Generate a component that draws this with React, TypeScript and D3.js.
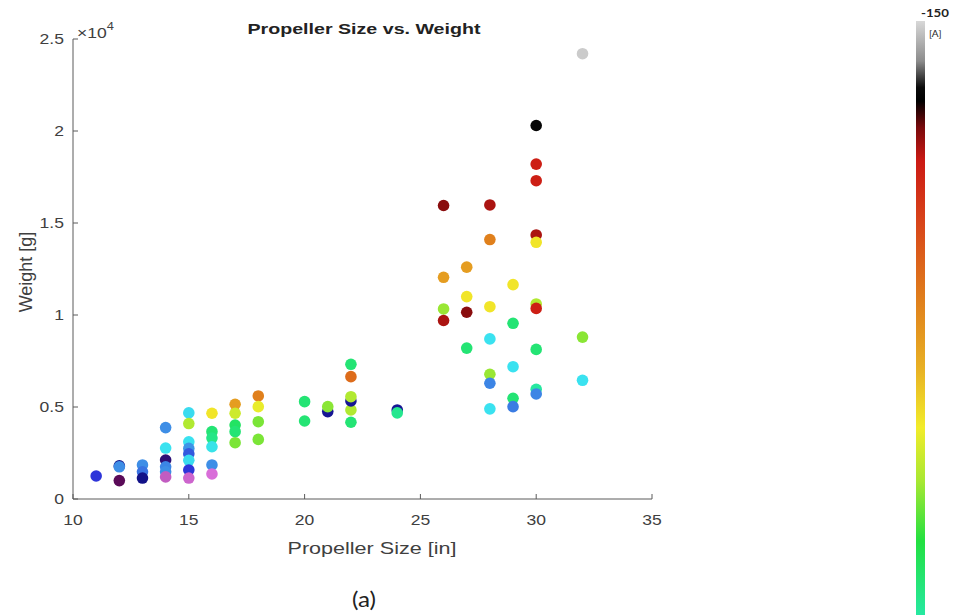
import React from "react";
import { scaleLinear, interpolateRgb } from "d3";

// propeller data: size [in], weight [g], current [A]
const sizes = [
  11,
  12, 12, 12,
  13, 13, 13,
  14, 14, 14, 14, 14, 14,
  15, 15, 15, 15, 15, 15, 15, 15,
  16, 16, 16, 16, 16, 16,
  17, 17, 17, 17, 17,
  18, 18, 18, 18,
  20, 20,
  21, 21,
  22, 22, 22, 22, 22, 22,
  24, 24,
  26, 26, 26, 26,
  27, 27, 27, 27,
  28, 28, 28, 28, 28, 28, 28,
  29, 29, 29, 29, 29,
  30, 30, 30, 30, 30, 30, 30, 30, 30, 30,
  32, 32, 32,
];
const weights = [
  1250,
  1800, 1750, 1000,
  1850, 1480, 1140,
  3880, 2770, 2120, 1750, 1480, 1200,
  4680, 4100, 3110, 2750, 2450, 2100, 1580, 1140,
  4660, 3660, 3310, 2840, 1850, 1360,
  5150, 4660, 4020, 3660, 3060,
  5600, 5020, 4200, 3240,
  5290, 4240,
  4750, 5020,
  7320, 6650, 4840, 5330, 5560, 4170,
  4840, 4680,
  15950, 12050, 10330, 9700,
  12600, 11000, 10150, 8200,
  15980, 14100, 10450, 8700, 6780, 6290, 4900,
  11650, 9550, 7190, 5470, 5020,
  20300, 18200, 17300, 14350, 13950, 10600, 10360, 8130, 5960, 5710,
  24200, 8800, 6450,
];
const currents = [
  -29,
  -21, -39, -13,
  -39, -36, -21,
  -39, -51, -18, -38, -39, -4,
  -50, -82, -51, -40, -33, -50, -29, -3,
  -90, -66, -64, -52, -39, -2,
  -102, -85, -68, -66, -78,
  -108, -88, -78, -78,
  -66, -66,
  -22, -79,
  -66, -112, -82, -22, -82, -66,
  -22, -63,
  -133, -102, -80, -131,
  -102, -90, -133, -66,
  -131, -108, -90, -51, -80, -38, -51,
  -90, -66, -51, -66, -37,
  -139, -128, -128, -131, -90, -82, -128, -66, -61, -38,
  -149, -79, -51,
];

const xTicks = [10, 15, 20, 25, 30, 35];
const yTicks = [0, 5000, 10000, 15000, 20000, 25000];
const yTickLabels = ["0", "0.5", "1", "1.5", "2", "2.5"];

// colour map of the colour bar, top (-150 A) to bottom (0 A)
const cmapCurrents = [-150, -144, -140, -138, -134, -129, -120, -108, -98, -89, -81, -72, -61, -51, -39, -28, -21, -13, 0];
const cmapColors = [
  "#d8d8d8", "#8c8c8c", "#0a0a0a", "#000000", "#7a0a0c", "#cc1a14", "#d8441a", "#e0801c",
  "#e8b024", "#f2ec2a", "#a8e832", "#22e040", "#26e8a0", "#3ae2f0", "#3e8ee6", "#2c2cd8",
  "#121288", "#5a0a58", "#f080f0",
];

export default function App() {
  const x = scaleLinear().domain([10, 35]).range([73, 652]);
  const y = scaleLinear().domain([0, 25000]).range([499, 39]);
  const color = scaleLinear<string>().domain(cmapCurrents).range(cmapColors).interpolate(interpolateRgb);
  // colour bar runs past the bottom of the page
  const barY = scaleLinear().domain([-150, 0]).range([21, 1021]);

  const axisColor = "#5a5a5a";
  const font = "'Liberation Sans', Arial, sans-serif";
  // the original figure is a little stretched sideways
  const sx = 1.17;

  return (
    <svg
      width={958}
      height={615}
      style={{ position: "absolute", left: 0, top: 0, background: "#fff" }}
      fontFamily={font}
    >
      <defs>
        <linearGradient id="cbar" gradientUnits="userSpaceOnUse" x1={0} y1={barY(-150)} x2={0} y2={barY(0)}>
          {cmapCurrents.map((c, i) => (
            <stop key={i} offset={(barY(c) - barY(-150)) / (barY(0) - barY(-150))} stopColor={cmapColors[i]} />
          ))}
        </linearGradient>
      </defs>

      <text x={364} y={34} textAnchor="middle" fontSize={15} fontWeight="bold" fill="#222"
        textLength={233} lengthAdjust="spacingAndGlyphs">
        Propeller Size vs. Weight
      </text>

      {/* axes */}
      <line x1={x(10)} x2={x(35)} y1={y(0)} y2={y(0)} stroke={axisColor} />
      <line x1={x(10)} x2={x(10)} y1={y(0)} y2={y(25000)} stroke={axisColor} />
      {xTicks.map((t) => (
        <g key={t}>
          <line x1={x(t)} x2={x(t)} y1={y(0)} y2={y(0) - 5} stroke={axisColor} />
          <text transform={`translate(${x(t)},${y(0) + 26}) scale(${sx},1)`} textAnchor="middle" fontSize={15} fill="#404040">
            {t}
          </text>
        </g>
      ))}
      {yTicks.map((t, i) => (
        <g key={t}>
          <line x1={x(10)} x2={x(10) + 5} y1={y(t)} y2={y(t)} stroke={axisColor} />
          <text transform={`translate(${x(10) - 9},${y(t) + 5}) scale(${sx},1)`} textAnchor="end" fontSize={15} fill="#404040">
            {yTickLabels[i]}
          </text>
        </g>
      ))}
      <text transform={`translate(77,38) scale(${sx},1)`} fontSize={15} fill="#404040">
        ×10<tspan dy={-8} fontSize={11}>4</tspan>
      </text>
      <text x={372} y={554} textAnchor="middle" fontSize={17} fill="#404040"
        textLength={169} lengthAdjust="spacingAndGlyphs">
        Propeller Size [in]
      </text>
      <text transform="translate(32,272) rotate(-90)" textAnchor="middle" fontSize={18} fill="#404040">
        Weight [g]
      </text>

      {/* points */}
      {sizes.map((s, i) => (
        <circle key={i} cx={x(s)} cy={y(weights[i])} r={5.8} fill={color(currents[i])} />
      ))}

      <text transform="translate(364,607) scale(1.1,1)" textAnchor="middle" fontSize={22}
        fontFamily="Lato, 'Open Sans', sans-serif" fill="#222">
        (a)
      </text>

      {/* colour bar */}
      <rect x={916} y={barY(-150)} width={9} height={615 - barY(-150)} fill="url(#cbar)" />
      <text x={921} y={17} fontSize={11} fontWeight="bold" fill="#222" fontFamily="Lato, sans-serif"
        textLength={28} lengthAdjust="spacingAndGlyphs">
        -150
      </text>
      <text x={929} y={37} fontSize={10} fill="#222" fontFamily="Lato, sans-serif">
        [A]
      </text>
    </svg>
  );
}
